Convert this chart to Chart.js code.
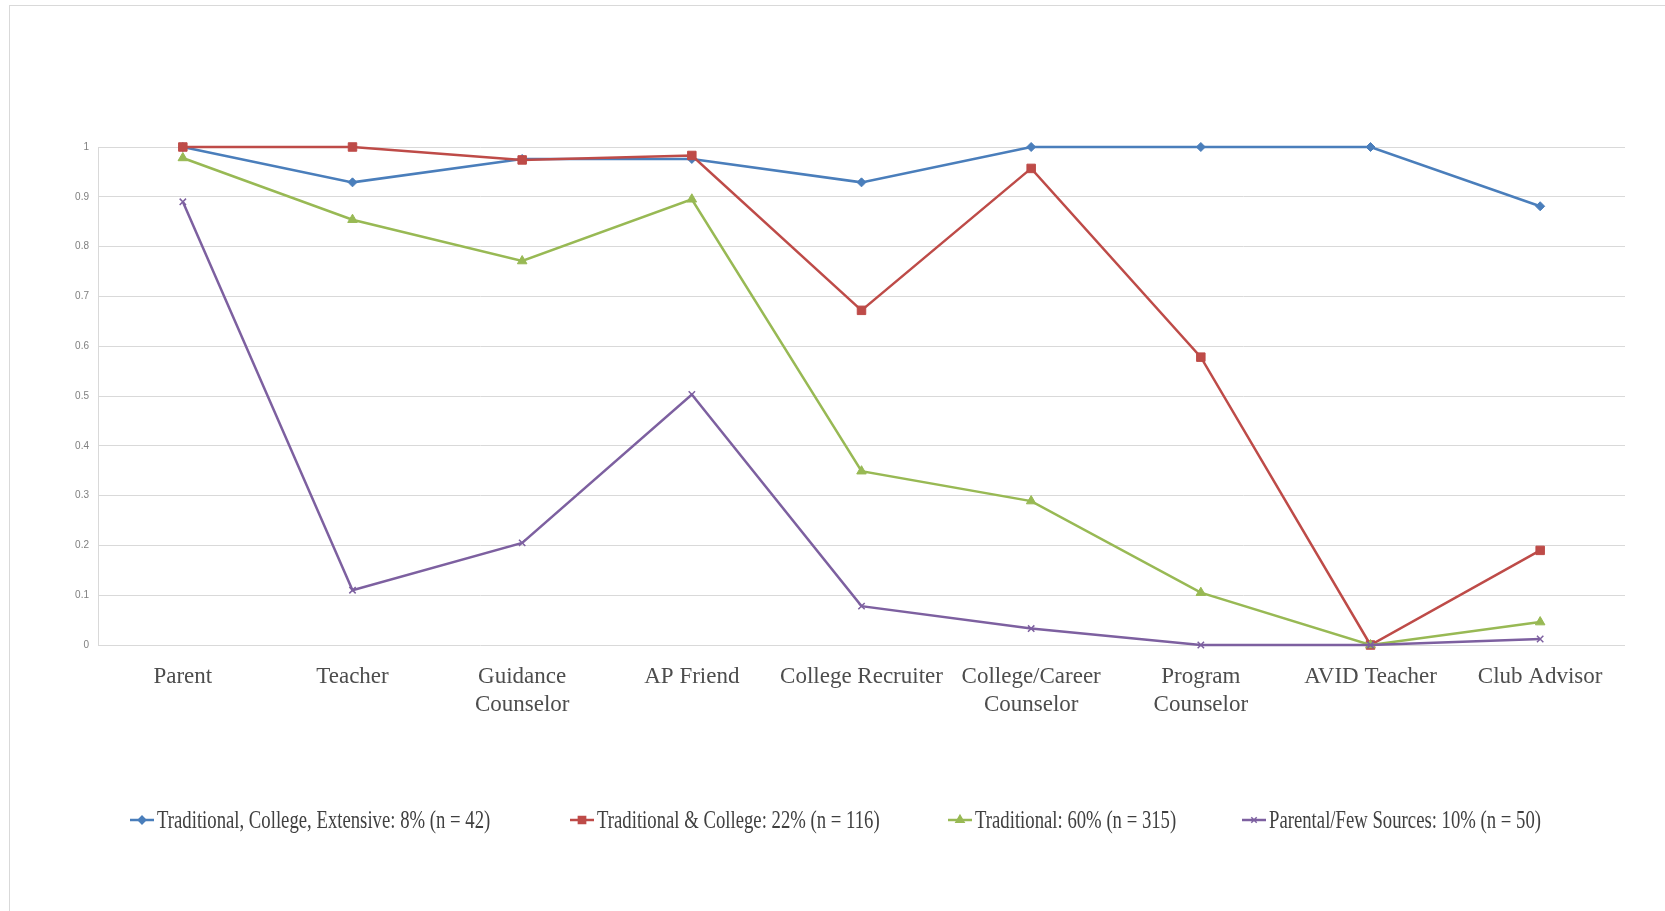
<!DOCTYPE html>
<html>
<head>
<meta charset="utf-8">
<title>Information sources by cluster</title>
<script src="https://cdn.jsdelivr.net/npm/chart.js@4.4.1/dist/chart.umd.min.js"></script>
<style>
    html, body { margin: 0; padding: 0; background: #fff; }
    #wrap { width: 1665px; height: 911px; }
</style>
</head>
<body>
<div id="wrap"><canvas id="myChart" width="1665" height="911"></canvas></div>
<script>
// sources of college information, share of each cluster using it
const categories = [
    'Parent', 'Teacher', ['Guidance', 'Counselor'], 'AP Friend', 'College Recruiter',
    ['College/Career', 'Counselor'], ['Program', 'Counselor'], 'AVID Teacher', 'Club Advisor'
];
const seriesNames = [
    'Traditional, College, Extensive: 8% (n = 42)',
    'Traditional & College: 22% (n = 116)',
    'Traditional: 60% (n = 315)',
    'Parental/Few Sources: 10% (n = 50)'
];
const extensive = [1, 0.929, 0.976, 0.976, 0.929, 1, 1, 1, 0.881];
const tradCollege = [1, 1, 0.974, 0.983, 0.672, 0.957, 0.578, 0, 0.19];
const traditional = [0.978, 0.854, 0.771, 0.895, 0.349, 0.289, 0.105, 0, 0.046];
const parental = [0.89, 0.11, 0.205, 0.503, 0.078, 0.033, 0, 0, 0.012];
const yTicks = [0, 0.1, 0.2, 0.3, 0.4, 0.5, 0.6, 0.7, 0.8, 0.9, 1];

const colors = ['#4a7ebb', '#be4b48', '#98b954', '#7d60a0'];
const markers = ['rectRot', 'rect', 'triangle', 'crossRot'];
const markerSize = [4.5, 6, 5.5, 4.5];
const values = [extensive, tradCollege, traditional, parental];

// left edge of each legend entry
const legendX = [130, 570, 948, 1242];
const legendY = 820;

// light frame round the chart
const frame = {
    id: 'frame',
    beforeDraw(chart) {
        const ctx = chart.ctx;
        ctx.save();
        ctx.fillStyle = '#fff';
        ctx.fillRect(0, 0, chart.width, chart.height);
        ctx.strokeStyle = '#d9d9d9';
        ctx.lineWidth = 1;
        ctx.strokeRect(9.5, 5.5, 3000, 3000);
        ctx.restore();
    }
};

// legend row: short line with marker, then narrow serif text
const seriesKey = {
    id: 'seriesKey',
    afterDraw(chart) {
        const ctx = chart.ctx;
        ctx.save();
        ctx.font = '26px "Liberation Serif"';
        ctx.textBaseline = 'middle';
        ctx.textAlign = 'left';
        chart.data.datasets.forEach(function(ds, i) {
            const x = legendX[i];
            ctx.strokeStyle = ds.borderColor;
            ctx.fillStyle = ds.borderColor;
            ctx.lineWidth = 2.5;
            ctx.beginPath();
            ctx.moveTo(x, legendY);
            ctx.lineTo(x + 24, legendY);
            ctx.stroke();
            ctx.lineWidth = 1.5;
            Chart.helpers.drawPoint(ctx, {
                pointStyle: ds.pointStyle,
                radius: ds.pointRadius * 0.85,
                borderWidth: 1.5,
                rotation: 0
            }, x + 12, legendY);
            ctx.fillStyle = '#404040';
            ctx.save();
            ctx.translate(x + 27, legendY + 1);
            ctx.scale(0.72, 1);
            ctx.fillText(ds.label, 0, 0);
            ctx.restore();
        });
        ctx.restore();
    }
};

const datasets = seriesNames.map(function(name, i) {
    return {
        label: name,
        data: values[i],
        borderColor: colors[i],
        backgroundColor: colors[i],
        pointBackgroundColor: colors[i],
        pointBorderColor: colors[i],
        pointBorderWidth: i === 3 ? 1.5 : 1,
        pointStyle: markers[i],
        pointRadius: markerSize[i],
        borderWidth: 2.5,
        tension: 0,
        clip: false,
        order: 4 - i
    };
});

const ctx = document.getElementById('myChart').getContext('2d');
const myChart = new Chart(ctx, {
    type: 'line',
    data: {
        labels: categories,
        datasets: datasets
    },
    options: {
        responsive: false,
        animation: false,
        layout: {
            padding: { top: 147, right: 40, left: 0, bottom: 0 }
        },
        plugins: {
            legend: { display: false },
            tooltip: { enabled: false }
        },
        scales: {
            x: {
                offset: true,
                grid: { display: false, drawTicks: false },
                border: { display: false },
                ticks: {
                    autoSkip: false,
                    maxRotation: 0,
                    padding: 18,
                    color: '#4d4d4d',
                    font: { family: 'Liberation Serif', size: 23, lineHeight: 1.22 }
                },
                afterFit: function(scale) { scale.height = 266; }
            },
            y: {
                min: 0,
                max: 1,
                afterBuildTicks: function(scale) {
                    scale.ticks = yTicks.map(function(v) { return { value: v }; });
                },
                ticks: {
                    padding: 9,
                    color: '#7f7f7f',
                    font: { family: 'Liberation Sans', size: 10 },
                    callback: function(v) { return String(Math.round(v * 10) / 10); }
                },
                grid: { color: '#d9d9d9', lineWidth: 1, drawTicks: false },
                border: { display: true, color: '#d9d9d9' },
                afterFit: function(scale) { scale.width = 98; }
            }
        }
    },
    plugins: [frame, seriesKey]
});
</script>
</body>
</html>
